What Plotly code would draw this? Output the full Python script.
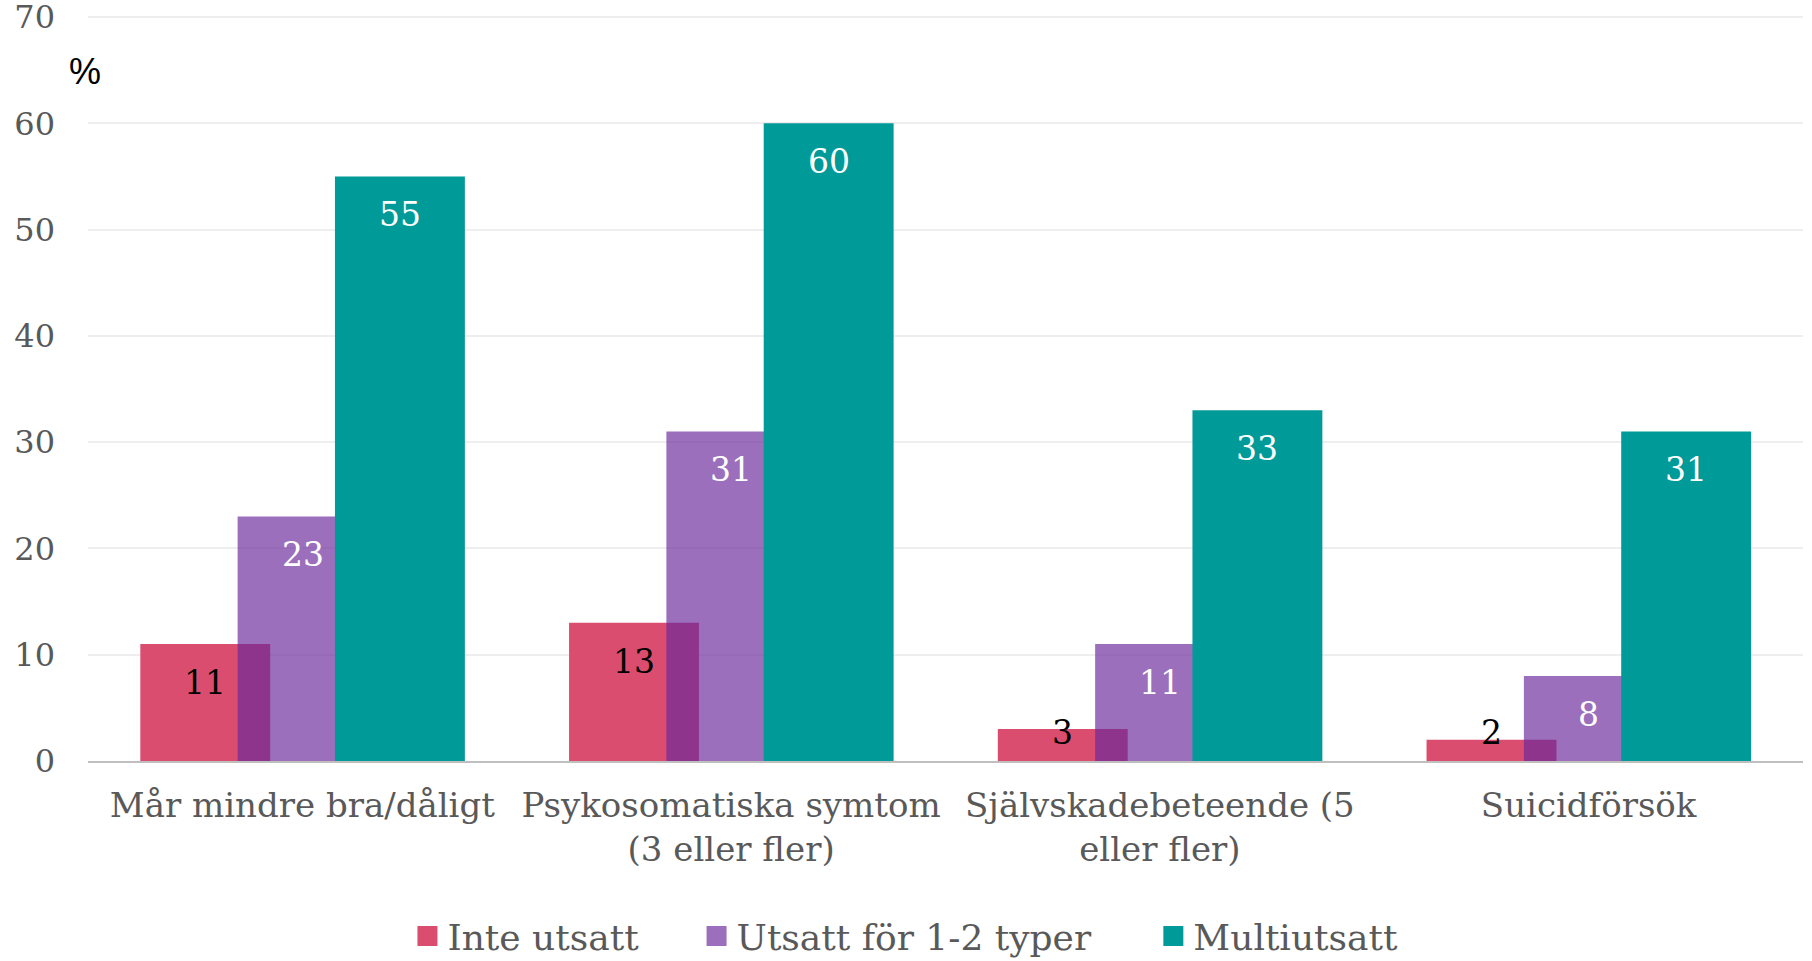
import plotly.graph_objects as go

categories = ["Mår mindre bra/dåligt", "Psykosomatiska symtom<br>(3 eller fler)",
              "Självskadebeteende (5<br>eller fler)", "Suicidförsök"]
series_names = ["Inte utsatt", "Utsatt för 1-2 typer", "Multiutsatt"]
inte_utsatt = [11, 13, 3, 2]
utsatt_1_2 = [23, 31, 11, 8]
multiutsatt = [55, 60, 33, 31]
y_ticks = [0, 10, 20, 30, 40, 50, 60, 70]

values = [inte_utsatt, utsatt_1_2, multiutsatt]
colors = ["#DA4D6E", "rgba(106,40,155,0.67)", "#009A98"]
legend_colors = ["#DA4D6E", "#9B6FBC", "#009A98"]
legend_pad = ["\u00a0" * 4 + "\u2009", "\u00a0" * 5, ""]
label_colors = ["black", "white", "white"]
offsets = [-0.378, -0.151, 0.076]
bar_w = 0.303

SERIF = "DejaVu Serif"
x_idx = list(range(len(categories)))

fig = go.Figure()
for name, vals, col, off in zip(series_names, values, colors, offsets):
    fig.add_trace(go.Bar(
        x=x_idx, y=vals, name=name, width=bar_w, offset=off,
        marker=dict(color=col, line=dict(width=0)),
        showlegend=False, hoverinfo="y",
    ))

for name, col, pad in zip(series_names, legend_colors, legend_pad):
    fig.add_trace(go.Scatter(
        x=[None], y=[None], mode="markers", name=name + pad,
        marker=dict(symbol="square", size=16, color=col, line=dict(color=col, width=4)),
        showlegend=True,
    ))

annotations = []
for vals, off, lc in zip(values, offsets, label_colors):
    for i, v in enumerate(vals):
        annotations.append(dict(
            x=i + off + bar_w / 2, y=max(v - 3.6, 2.7), xref="x", yref="y",
            text=str(v), showarrow=False, xanchor="center", yanchor="middle",
            font=dict(family=SERIF, size=33, color=lc),
        ))
annotations.append(dict(
    x=-0.0017, y=0.925, xref="paper", yref="paper", text="%", showarrow=False,
    xanchor="center", yanchor="middle",
    font=dict(family="Liberation Sans", size=36, color="black"),
))

fig.update_layout(
    width=1812, height=961,
    margin=dict(l=88, r=9, t=16.4, b=200, autoexpand=False),
    paper_bgcolor="white", plot_bgcolor="white",
    barmode="overlay",
    annotations=annotations,
    showlegend=True,
    legend=dict(orientation="h", x=0.4997, xanchor="center", xref="container",
                y=0.026, yanchor="middle", yref="container",
                font=dict(family=SERIF, size=36, color="#595959")),
    xaxis=dict(range=[-0.5, 3.5], tickmode="array", tickvals=x_idx, ticktext=categories,
               showgrid=False, showline=True, linecolor="#BFBFBF", linewidth=2,
               ticks="", tickfont=dict(family=SERIF, size=34, color="#595959"),
               ticklabelstandoff=13, zeroline=False, automargin=False),
    yaxis=dict(range=[0, 70.1], tickmode="array", tickvals=y_ticks,
               showgrid=True, gridcolor="#EEEEEE", gridwidth=1.5,
               zeroline=False, showline=False, ticks="",
               tickfont=dict(family=SERIF, size=32, color="#595959"),
               ticklabelstandoff=32, automargin=False, ticklabeloverflow="allow"),
)

fig.write_html("out.html", config={"displayModeBar": False},
               post_script="document.body.style.margin='0px';")
